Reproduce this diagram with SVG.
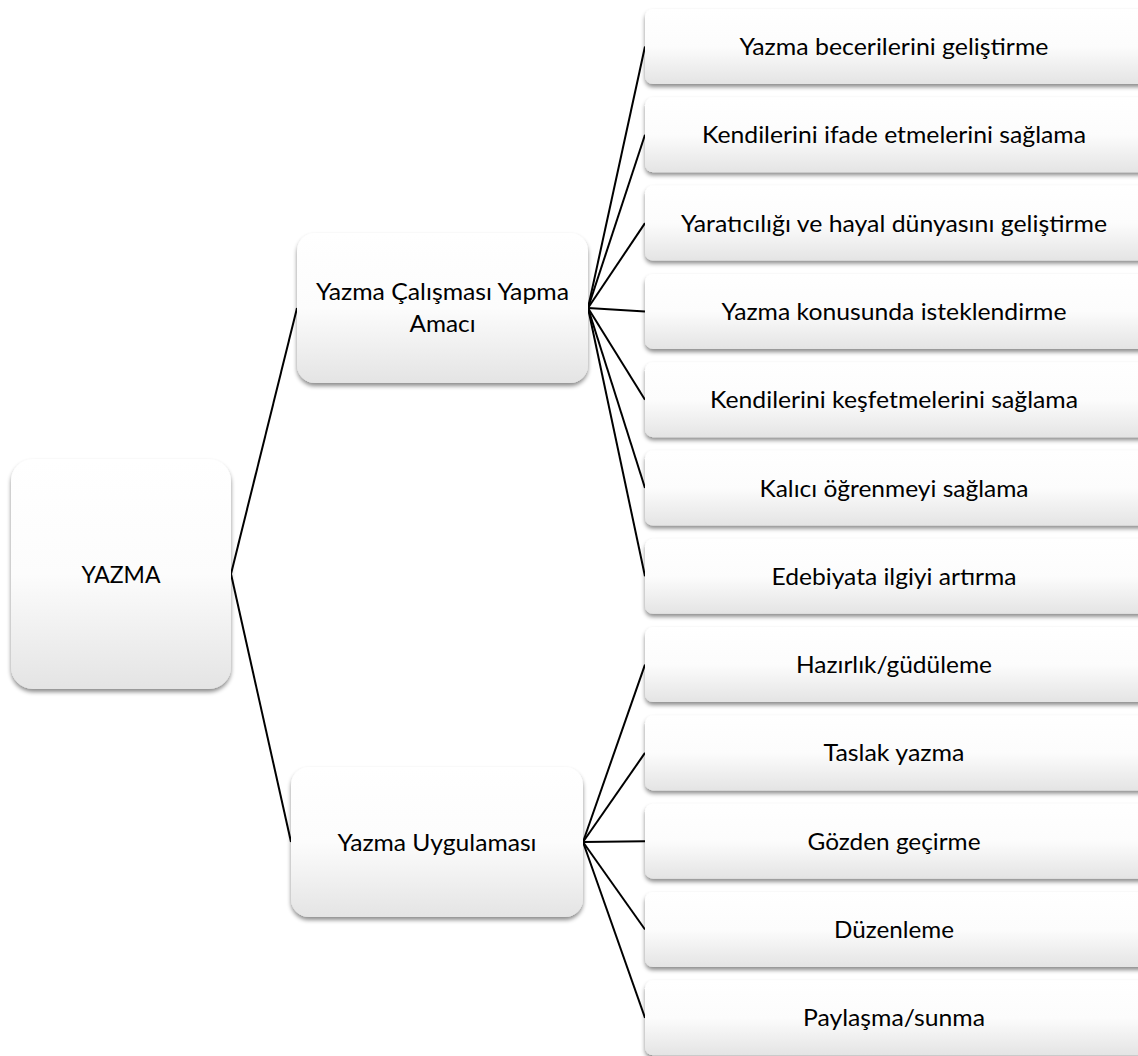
<svg xmlns="http://www.w3.org/2000/svg" width="1138" height="1056" viewBox="0 0 1138 1056">
<defs>
<linearGradient id="fill" x1="0" y1="0" x2="0" y2="1">
<stop offset="0" stop-color="#ffffff"/>
<stop offset="0.5" stop-color="#fcfcfc"/>
<stop offset="1" stop-color="#e4e4e4"/>
</linearGradient>
<filter id="shadow" x="-10%" y="-10%" width="120%" height="130%">
<feDropShadow dx="0" dy="3" stdDeviation="2" flood-color="#000" flood-opacity="0.45"/>
</filter>
</defs>
<style>
.box{fill:url(#fill);filter:url(#shadow);}
.t{font-family:Lato,"Open Sans","Liberation Sans",sans-serif;font-size:24px;fill:#000;text-anchor:middle;}
.c{stroke:#000;stroke-width:2;fill:none;}
</style>
<rect width="1138" height="1056" fill="#fff"/>
<g id="connectors">
<line class="c" x1="231" y1="574" x2="297" y2="308"/>
<line class="c" x1="231" y1="574" x2="291" y2="842"/>
<line class="c" x1="588" y1="308" x2="645" y2="46.5"/>
<line class="c" x1="588" y1="308" x2="645" y2="134.8"/>
<line class="c" x1="588" y1="308" x2="645" y2="223.1"/>
<line class="c" x1="588" y1="308" x2="645" y2="311.4"/>
<line class="c" x1="588" y1="308" x2="645" y2="399.7"/>
<line class="c" x1="588" y1="308" x2="645" y2="488"/>
<line class="c" x1="588" y1="308" x2="645" y2="576.3"/>
<line class="c" x1="583" y1="842" x2="645" y2="664.6"/>
<line class="c" x1="583" y1="842" x2="645" y2="752.9"/>
<line class="c" x1="583" y1="842" x2="645" y2="841.2"/>
<line class="c" x1="583" y1="842" x2="645" y2="929.5"/>
<line class="c" x1="583" y1="842" x2="645" y2="1017.8"/>
</g>
<g id="root">
<rect class="box" x="11" y="459" width="220" height="230" rx="22"/>
<text class="t" x="121" y="582.5" textLength="79" lengthAdjust="spacingAndGlyphs">YAZMA</text>
</g>
<g id="mid1">
<rect class="box" x="297" y="233" width="291" height="150" rx="18"/>
<text class="t" x="442.5" y="300" textLength="253" lengthAdjust="spacingAndGlyphs">Yazma Çalışması Yapma</text>
<text class="t" x="442.5" y="332" textLength="66" lengthAdjust="spacingAndGlyphs">Amacı</text>
</g>
<g id="mid2">
<rect class="box" x="291" y="767" width="292" height="150" rx="18"/>
<text class="t" x="437" y="850.5" textLength="199" lengthAdjust="spacingAndGlyphs">Yazma Uygulaması</text>
</g>
<g id="leaf1"><rect class="box" x="645" y="9" width="520" height="75" rx="8"/><text class="t" x="894" y="55" textLength="309" lengthAdjust="spacingAndGlyphs">Yazma becerilerini geliştirme</text></g>
<g id="leaf2"><rect class="box" x="645" y="97.3" width="520" height="75" rx="8"/><text class="t" x="894" y="143.3" textLength="384" lengthAdjust="spacingAndGlyphs">Kendilerini ifade etmelerini sağlama</text></g>
<g id="leaf3"><rect class="box" x="645" y="185.6" width="520" height="75" rx="8"/><text class="t" x="894" y="231.6" textLength="426" lengthAdjust="spacingAndGlyphs">Yaratıcılığı ve hayal dünyasını geliştirme</text></g>
<g id="leaf4"><rect class="box" x="645" y="273.9" width="520" height="75" rx="8"/><text class="t" x="894" y="319.9" textLength="345" lengthAdjust="spacingAndGlyphs">Yazma konusunda isteklendirme</text></g>
<g id="leaf5"><rect class="box" x="645" y="362.2" width="520" height="75" rx="8"/><text class="t" x="894" y="408.2" textLength="368" lengthAdjust="spacingAndGlyphs">Kendilerini keşfetmelerini sağlama</text></g>
<g id="leaf6"><rect class="box" x="645" y="450.5" width="520" height="75" rx="8"/><text class="t" x="894" y="496.5" textLength="269" lengthAdjust="spacingAndGlyphs">Kalıcı öğrenmeyi sağlama</text></g>
<g id="leaf7"><rect class="box" x="645" y="538.8" width="520" height="75" rx="8"/><text class="t" x="894" y="584.8" textLength="245" lengthAdjust="spacingAndGlyphs">Edebiyata ilgiyi artırma</text></g>
<g id="leaf8"><rect class="box" x="645" y="627.1" width="520" height="75" rx="8"/><text class="t" x="894" y="673.1" textLength="196" lengthAdjust="spacingAndGlyphs">Hazırlık/güdüleme</text></g>
<g id="leaf9"><rect class="box" x="645" y="715.4" width="520" height="75" rx="8"/><text class="t" x="894" y="761.4" textLength="141" lengthAdjust="spacingAndGlyphs">Taslak yazma</text></g>
<g id="leaf10"><rect class="box" x="645" y="803.7" width="520" height="75" rx="8"/><text class="t" x="894" y="849.7" textLength="173" lengthAdjust="spacingAndGlyphs">Gözden geçirme</text></g>
<g id="leaf11"><rect class="box" x="645" y="892" width="520" height="75" rx="8"/><text class="t" x="894" y="938" textLength="120" lengthAdjust="spacingAndGlyphs">Düzenleme</text></g>
<g id="leaf12"><rect class="box" x="645" y="980.3" width="520" height="75" rx="8"/><text class="t" x="894" y="1026.3" textLength="182" lengthAdjust="spacingAndGlyphs">Paylaşma/sunma</text></g>
</svg>
